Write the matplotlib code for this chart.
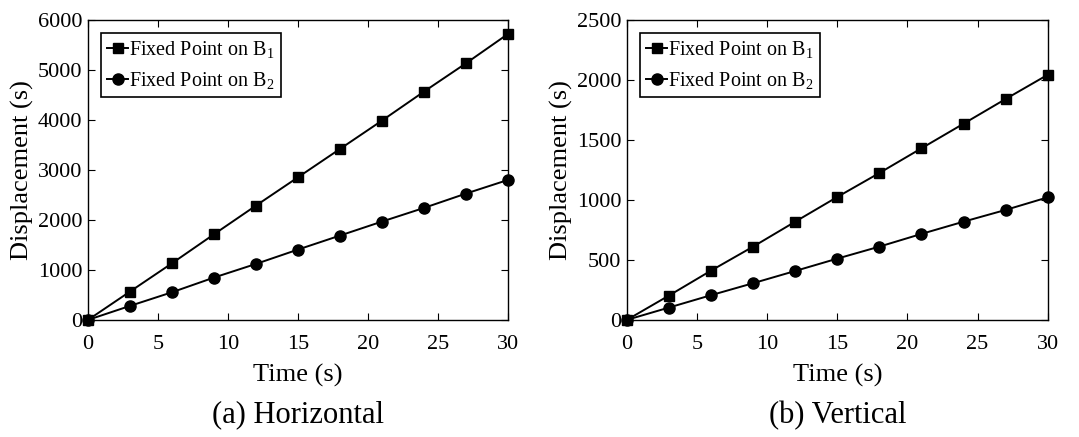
import matplotlib
matplotlib.use('Agg')
import matplotlib.pyplot as plt

plt.rcParams['font.family'] = ['Liberation Serif', 'DejaVu Serif']
plt.rcParams['mathtext.fontset'] = 'custom'
plt.rcParams['mathtext.rm'] = 'Liberation Serif'
plt.rcParams['mathtext.it'] = 'Liberation Serif:italic'

# data
time = [0, 3, 6, 9, 12, 15, 18, 21, 24, 27, 30]
horiz_b1 = [0, 567, 1133, 1713, 2287, 2853, 3420, 3987, 4567, 5133, 5720]
horiz_b2 = [0, 280, 553, 847, 1120, 1407, 1687, 1967, 2240, 2527, 2800]
vert_b1 = [0, 203, 411, 611, 819, 1025, 1225, 1431, 1636, 1842, 2044]
vert_b2 = [0, 103, 206, 306, 408, 511, 611, 717, 819, 917, 1022]

labels = ['Fixed Point on B$_1$', 'Fixed Point on B$_2$']
captions = ['(a) Horizontal', '(b) Vertical']
yticks_h = [0, 1000, 2000, 3000, 4000, 5000, 6000]
yticks_v = [0, 500, 1000, 1500, 2000, 2500]
xticks = [0, 5, 10, 15, 20, 25, 30]

fig = plt.figure(figsize=(10.79, 4.37), dpi=100)
ax1 = fig.add_axes([0.0816, 0.268, 0.389, 0.686])
ax2 = fig.add_axes([0.581, 0.268, 0.390, 0.686])

panels = [(ax1, horiz_b1, horiz_b2, yticks_h, captions[0]),
          (ax2, vert_b1, vert_b2, yticks_v, captions[1])]

for ax, b1, b2, yt, cap in panels:
    ax.plot(time, b1, color='black', lw=1.4, marker='s', ms=7.2, label=labels[0], clip_on=False)
    ax.plot(time, b2, color='black', lw=1.4, marker='o', ms=8, label=labels[1], clip_on=False)
    ax.set_xlim(0, 30)
    ax.set_ylim(yt[0], yt[-1])
    ax.set_xticks(xticks)
    ax.set_yticks(yt)
    ax.tick_params(direction='in', top=True, right=True, labelsize=16, length=5, width=0.8)
    ax.tick_params(axis='x', pad=11)
    ax.tick_params(axis='y', pad=4)
    ax.set_xlabel('Time (s)', fontsize=19, labelpad=7)
    ax.set_ylabel('Displacement (s)', fontsize=19, labelpad=3)
    for s in ax.spines.values():
        s.set_linewidth(1.0)
    leg = ax.legend(loc='upper left', fontsize=14.5, handlelength=1.05, handletextpad=0.05,
                    borderpad=0.3, labelspacing=0.5, fancybox=False, edgecolor='black',
                    framealpha=1, borderaxespad=0.65)
    leg.get_frame().set_linewidth(1.2)
    pos = ax.get_position()
    fig.text((pos.x0 + pos.x1) / 2, 0.05, cap, ha='center', va='center', fontsize=22)

fig.savefig('out.png', dpi=100)
